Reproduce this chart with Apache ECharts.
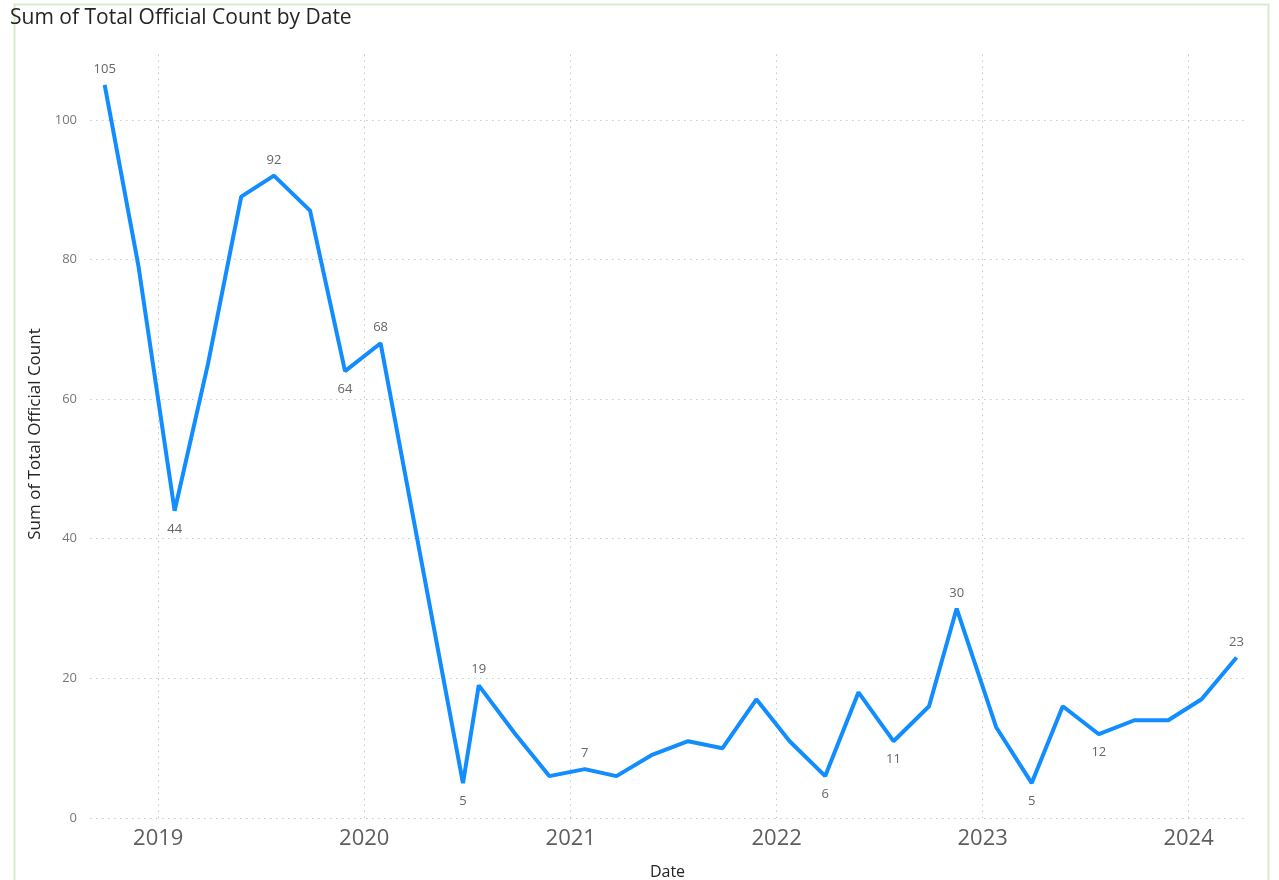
<!DOCTYPE html>
<html>
<head>
<meta charset="utf-8">
<title>Sum of Total Official Count by Date</title>
<script src="https://cdn.jsdelivr.net/npm/echarts@6/dist/echarts.min.js"></script>
<style>
html,body{margin:0;padding:0;background:#fff;}
#main{width:1279px;height:880px;}
</style>
</head>
<body>
<div id="main"></div>
<script>
// data
var dates = ['2018-09-28','2018-11-27','2019-01-30','2019-03-30','2019-05-28','2019-07-25',
    '2019-09-27','2019-11-28','2020-01-30','2020-06-24','2020-07-22','2020-09-25',
    '2020-11-24','2021-01-26','2021-03-23','2021-05-24','2021-07-28','2021-09-27',
    '2021-11-26','2022-01-24','2022-03-28','2022-05-26','2022-07-27','2022-09-28',
    '2022-11-16','2023-01-25','2023-03-29','2023-05-23','2023-07-26','2023-09-27',
    '2023-11-26','2024-01-24','2024-03-26'];
var counts = [105,79,44,65,89,92,
    87,64,68,5,19,12,
    6,7,6,9,11,10,
    17,11,6,18,11,16,
    30,13,5,16,12,14,
    14,17,23];
// points that carry a data label in the original
var labeled = [1,0,1,0,0,1,
    0,1,1,1,1,0,
    0,1,0,0,0,0,
    0,0,1,0,1,0,
    1,0,1,0,1,0,
    0,0,1];
var yearTicks = ['2019','2020','2021','2022','2023','2024'];
var yTicks = [0,20,40,60,80,100];

var myChart = echarts.init(document.getElementById('main'));

var seriesData = [];
for (var i=0;i<dates.length;i++){
    var prev = i>0 ? counts[i-1] : -Infinity;
    var next = i<counts.length-1 ? counts[i+1] : -Infinity;
    var isPeak = counts[i]>=prev && counts[i]>=next;
    seriesData.push({
        value:[dates[i],counts[i]],
        label:{show:labeled[i]==1, position:isPeak?'top':'bottom', distance:isPeak?9:12}
    });
}
// vertical dotted line for each year start
var yearLines = yearTicks.map(function(y){return {xAxis:y+'-01-01'};});

var gridLine = {color:'#c8c8c8',width:1,type:[1.5,4.5]};

var option = {
    animation:false,
    title:{
        text:'Sum of Total Official Count by Date',
        left:5,
        top:3,
        textStyle:{fontFamily:'Open Sans',fontSize:21,fontWeight:'normal',color:'#252423'}
    },
    graphic:[{
        type:'rect',
        shape:{x:14.5,y:4.5,width:1254,height:900},
        style:{fill:'none',stroke:'#d8eacb',lineWidth:2},
        silent:true
    }],
    grid:{left:90,right:34,top:50,bottom:62,outerBoundsMode:'none'},
    xAxis:{
        type:'time',
        min:'2018-09-02',
        max:'2024-04-10',
        name:'Date',
        nameLocation:'middle',
        nameGap:46,
        nameTextStyle:{fontFamily:'Open Sans',fontSize:16,color:'#252423'},
        axisLine:{show:false},
        axisTick:{show:false},
        axisLabel:{
            fontFamily:'Open Sans',fontSize:22,color:'#605e5c',margin:10,
            hideOverlap:false,
            formatter:function(v){
                var d = new Date(v);
                if (d.getMonth()==0 && d.getDate()==1) return String(d.getFullYear());
                return '';
            }
        },
        splitLine:{show:false}
    },
    yAxis:{
        type:'value',
        min:0,
        max:110,
        interval:20,
        name:'Sum of Total Official Count',
        nameLocation:'middle',
        nameGap:46,
        nameRotate:90,
        nameTextStyle:{fontFamily:'Open Sans',fontSize:17,color:'#252423'},
        axisLine:{show:false},
        axisTick:{show:false,customValues:yTicks},
        axisLabel:{customValues:yTicks,fontFamily:'Open Sans',fontSize:13,color:'#777777',margin:13},
        splitLine:{show:true,lineStyle:gridLine}
    },
    series:[{
        name:'Sum of Total Official Count',
        type:'line',
        data:seriesData,
        symbol:'circle',
        symbolSize:0.1,
        showSymbol:true,
        lineStyle:{color:'#118DFF',width:4},
        itemStyle:{color:'#118DFF'},
        label:{fontFamily:'Open Sans',fontSize:13,color:'#666666'},
        markLine:{
            silent:true,
            symbol:'none',
            label:{show:false},
            lineStyle:gridLine,
            data:yearLines,
            z:1
        },
        z:3
    }]
};
myChart.setOption(option);
</script>
</body>
</html>
